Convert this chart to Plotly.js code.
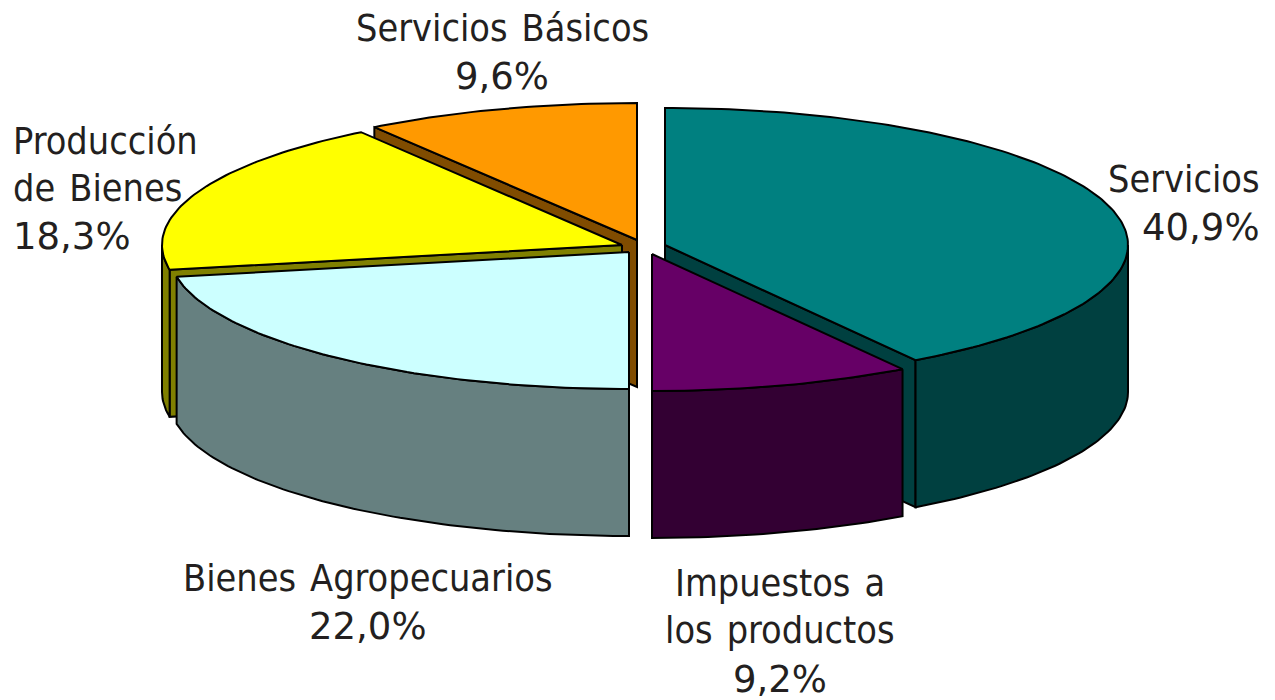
<!DOCTYPE html>
<html lang="es">
<head>
<meta charset="utf-8">
<title>Servicios y bienes</title>
<script src="https://cdn.plot.ly/plotly-3.0.1.min.js"></script>
<style>html,body{margin:0;padding:0;background:#fff}#chart{width:1275px;height:700px}</style>
</head>
<body>
<div id="chart"></div>
<script>
// Data, clockwise from 12 o'clock
const categories = ['Servicios', 'Impuestos a los productos', 'Bienes Agropecuarios', 'Producción de Bienes', 'Servicios Básicos'];
const shares = [40.9, 9.2, 22.0, 18.3, 9.6];

// Label text
const labelLines = [['Servicios'], ['Impuestos\u200A a', 'los\u200A productos'], ['Bienes\u200A Agropecuarios'], ['Producción', 'de\u200A Bienes'], ['Servicios\u200A Básicos']];

// Styles
const topColors = ['#008080', '#660066', '#CCFFFF', '#FFFF00', '#FF9900'];
const sideColors = ['#004040', '#330033', '#668080', '#808000', '#804C00'];
const textColor = '#231f20';
const nameFont = {family: '"DejaVu Sans Condensed", "DejaVu Sans", sans-serif', size: 37.5, color: textColor};
const pctFont = {family: '"DejaVu Sans", sans-serif', size: 37, color: textColor};

// Projection of the pie (axis units equal pixels)
const ry = 137, depth = 147;
const radiusX = [463, 463, 460, 460, 463];
const apexX = [665, 652, 629, 622, 637];
const apexY = [245, 254, 252, 245, 240];
const labelX = [1262, 780, 368, 11, 502];
const labelLineY = [[179, 227], [583, 630, 679], [578, 626], [141, 188, 236], [28, 76]];
const labelAnchor = ['right', 'center', 'center', 'left', 'center'];
const drawOrder = [4, 3, 2, 0, 1];

// Slice angles derived from the shares; a boundary within a degree of 6 o'clock sits on it
const total = shares.reduce((a, b) => a + b, 0);
const snap = a => Math.abs(a - 180) < 1 ? 180 : a;
const startAngle = [], endAngle = [];
shares.reduce((acc, v, i) => {
  startAngle[i] = snap(acc / total * 360);
  endAngle[i] = snap((acc + v) / total * 360);
  return acc + v;
}, 0);

const rad = d => d * Math.PI / 180;
const px = (i, a) => apexX[i] + radiusX[i] * Math.sin(rad(a));
const py = (i, a) => apexY[i] - ry * Math.cos(rad(a));
function arc(i, a0, a1) {
  const n = Math.max(2, Math.ceil(Math.abs(a1 - a0)));
  const xs = [], ys = [];
  for (let k = 0; k <= n; k++) {
    const a = a0 + (a1 - a0) * k / n;
    xs.push(px(i, a)); ys.push(py(i, a));
  }
  return {xs, ys};
}
function poly(xs, ys, fill, name) {
  return {
    type: 'scatter', mode: 'lines', x: xs, y: ys, fill: 'toself', fillcolor: fill,
    line: {color: '#000', width: 2, shape: 'linear'}, hoverinfo: 'text', text: name,
    showlegend: false
  };
}
const pctText = i => shares[i].toFixed(1).replace('.', ',') + '%';

const traces = [];
drawOrder.forEach(i => {
  const s = startAngle[i], e = endAngle[i];
  const name = categories[i] + ': ' + pctText(i);
  const radial = [];
  if (Math.sin(rad(s)) < -1e-9) radial.push(s);
  if (Math.sin(rad(e)) > 1e-9) radial.push(e);
  radial.forEach(a => {
    const x = px(i, a), y = py(i, a);
    traces.push(poly([apexX[i], x, x, apexX[i], apexX[i]],
      [apexY[i], y, y + depth, apexY[i] + depth, apexY[i]], sideColors[i], name));
  });
  const a0 = Math.max(s, 90), a1 = Math.min(e, 270);
  if (a1 > a0) {
    const t = arc(i, a0, a1);
    const xs = t.xs.concat(t.xs.slice().reverse(), [t.xs[0]]);
    const ys = t.ys.concat(t.ys.slice().reverse().map(v => v + depth), [t.ys[0]]);
    traces.push(poly(xs, ys, sideColors[i], name));
  }
  const t = arc(i, s, e);
  traces.push(poly([apexX[i]].concat(t.xs, [apexX[i]]), [apexY[i]].concat(t.ys, [apexY[i]]), topColors[i], name));
});

const annotations = [];
categories.forEach((c, i) => {
  const lines = labelLines[i].concat([pctText(i)]);
  lines.forEach((line, k) => {
    annotations.push({
      x: labelX[i], y: labelLineY[i][k], xref: 'x', yref: 'y',
      xanchor: labelAnchor[i], yanchor: 'middle', align: labelAnchor[i],
      showarrow: false, text: line,
      font: k === lines.length - 1 ? pctFont : nameFont
    });
  });
});

const hidden = {visible: false, fixedrange: true, autorange: false};
Plotly.newPlot('chart', traces, {
  width: 1275, height: 700,
  margin: {l: 0, r: 0, t: 0, b: 0, pad: 0},
  paper_bgcolor: '#fff', plot_bgcolor: '#fff',
  xaxis: Object.assign({range: [0, 1275]}, hidden),
  yaxis: Object.assign({range: [700, 0]}, hidden),
  annotations, showlegend: false, hovermode: 'closest'
}, {displayModeBar: false, responsive: false});
</script>
</body>
</html>
